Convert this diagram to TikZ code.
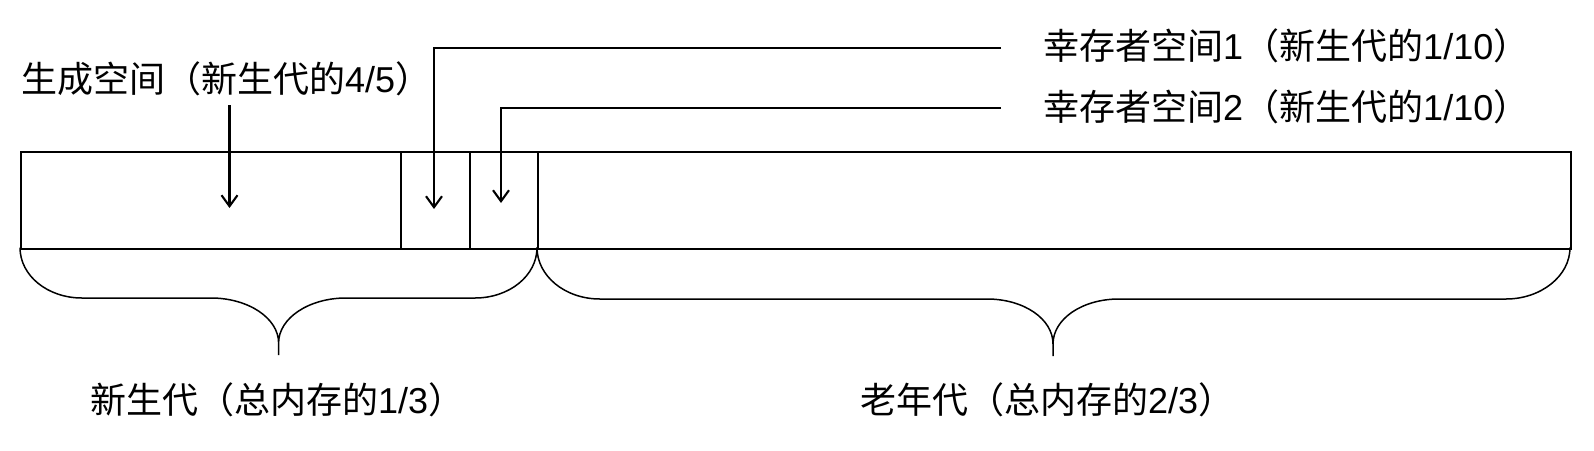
\documentclass[tikz,border=0pt]{standalone}
\usepackage{fontspec}
\setmainfont{Noto Sans CJK SC}
\newfontfamily\lat{Liberation Sans}
\usetikzlibrary{arrows.meta}
\begin{document}
\begin{tikzpicture}[x=1pt,y=-1pt,
  membox/.style={draw=black,line width=2pt,minimum height=97pt,inner sep=0pt,anchor=north west},
  lbl/.style={inner sep=0pt,anchor=west,font=\fontsize{36}{40}\selectfont},
  ptr/.style={line width=2.1pt,-{Straight Barb[length=11pt,width=16pt,line width=2.1pt]}},
  bracepath/.style={line width=1.5pt,line join=round}]
\useasboundingbox (0,0) rectangle (1594,450);
% memory boxes
\node[membox,minimum width=380pt] (eden) at (20,150.5) {};
\node[membox,minimum width=69pt] (sa) at (400,150.5) {};
\node[membox,minimum width=68pt] (sb) at (469,150.5) {};
\node[membox,minimum width=1033pt] (old) at (537,150.5) {};
% labels
\node[lbl] (genl) at (21,79) {生成空间（新生代的{\lat 4/5}）};
\node[lbl] (s1l) at (1043,46) {幸存者空间{\lat 1}（新生代的{\lat 1/10}）};
\node[lbl] (s2l) at (1043,107) {幸存者空间{\lat 2}（新生代的{\lat 1/10}）};
\node[lbl] (youngl) at (90,400) {新生代（总内存的{\lat 1/3}）};
\node[lbl] (oldl) at (860,400) {老年代（总内存的{\lat 2/3}）};
% pointer coordinates
\coordinate (g0) at (229.5,105);
\coordinate (g1) at (229.5,208);
\coordinate (c1) at (1001,48.3);
\coordinate (t1) at (434,209);
\coordinate (c2) at (1001,108);
\coordinate (t2) at (501,203);
\draw[ptr] (g0) -- (g1);
\draw[ptr] (c1) -| (t1);
\draw[ptr] (c2) -| (t2);
% braces
\draw[bracepath] (20,247.5) .. controls (20,276) and (48,298) .. (82,298)
  -- (211,298) .. controls (248,298) and (278.6,318) .. (278.6,343) -- (278.6,355)
  (278.6,343) .. controls (278.6,318) and (309,298) .. (346,298)
  -- (475,298) .. controls (509,298) and (537,276) .. (537,247.5);
\draw[bracepath] (537,247.5) .. controls (537,276) and (565,299) .. (600,299)
  -- (987,299) .. controls (1024,299) and (1053,319) .. (1053,344) -- (1053,356)
  (1053,344) .. controls (1053,319) and (1082,299) .. (1119,299)
  -- (1506,299) .. controls (1541,299) and (1570,276) .. (1570,247.5);
\end{tikzpicture}
\end{document}
